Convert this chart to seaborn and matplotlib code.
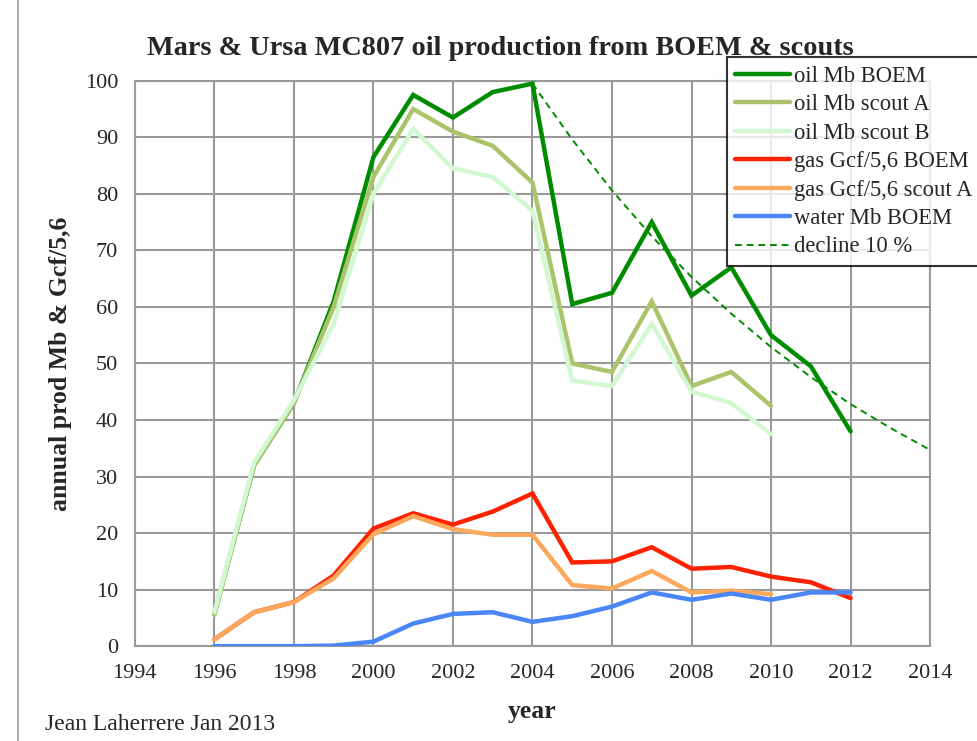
import numpy as np
import pandas as pd
import matplotlib
matplotlib.use("Agg")
import matplotlib.pyplot as plt
import seaborn as sns
from matplotlib.lines import Line2D

# Values
years_boem = [1996, 1997, 1998, 1999, 2000, 2001, 2002, 2003, 2004, 2005, 2006, 2007, 2008, 2009, 2010, 2011, 2012]
years_scout = [1996, 1997, 1998, 1999, 2000, 2001, 2002, 2003, 2004, 2005, 2006, 2007, 2008, 2009, 2010]
years_decline = [2004, 2005, 2006, 2007, 2008, 2009, 2010, 2011, 2012, 2013, 2014]

oil_boem = [5.8, 32, 43, 61, 86.5, 97.5, 93.5, 98, 99.5, 60.5, 62.5, 75, 62, 67, 55, 49.5, 38]
oil_scout_a = [5.5, 32, 43, 60, 83, 95, 91, 88.5, 82, 50, 48.5, 61, 46, 48.5, 42.5]
oil_scout_b = [6, 32.5, 43.5, 57, 80, 91.5, 84.5, 83, 77, 47, 46, 57, 45, 43, 37.5]
gas_boem = [1.2, 6, 7.8, 12.5, 20.8, 23.5, 21.5, 23.8, 27, 14.8, 15, 17.5, 13.7, 14, 12.3, 11.3, 8.5]
gas_scout_a = [1.2, 6, 7.8, 12, 19.8, 23, 20.7, 19.7, 19.7, 10.8, 10.2, 13.3, 9.5, 9.8, 9.2]
water_boem = [0, 0, 0, 0.1, 0.8, 4, 5.7, 6, 4.3, 5.3, 7, 9.5, 8.2, 9.3, 8.2, 9.5, 9.5]
decline_10 = [99.5, 89.6, 80.6, 72.5, 65.3, 58.8, 52.9, 47.6, 42.8, 38.6, 34.7]

x_ticks = list(range(1994, 2015, 2))
y_ticks = list(range(0, 101, 10))

sns.set_style("white")
plt.rcParams['font.family'] = ['Liberation Serif', 'DejaVu Serif']

fig = plt.figure(figsize=(9.77, 7.41), dpi=100)
ax = fig.add_axes([0.138, 0.128, 0.814, 0.763])

series = [
    (years_boem, oil_boem, "oil Mb BOEM", "#008c00"),
    (years_scout, oil_scout_a, "oil Mb scout A", "#abc46b"),
    (years_scout, oil_scout_b, "oil Mb scout B", "#d2f8d2"),
    (years_boem, gas_boem, "gas Gcf/5,6 BOEM", "#ff2200"),
    (years_scout, gas_scout_a, "gas Gcf/5,6 scout A", "#fba75c"),
    (years_boem, water_boem, "water Mb BOEM", "#4a86f8"),
]

handles = []
for i, (xs, ys, name, col) in enumerate(series):
    sns.lineplot(x=xs, y=ys, ax=ax, color=col, linewidth=3.2, zorder=3 + i,
                 solid_capstyle="round", solid_joinstyle="miter")
    handles.append(Line2D([0], [0], color=col, linewidth=3.2, solid_capstyle="round", label=name))

sns.lineplot(x=years_decline, y=decline_10, ax=ax, color="#008c00", linewidth=1.4,
             linestyle=(0, (3.5, 2.5)), zorder=10)
handles.append(Line2D([0], [0], color="#008c00", linewidth=1.4, linestyle=(0, (3.5, 2.5)),
                      label="decline 10 %"))

ax.set_xlim(1994, 2014)
ax.set_ylim(0, 100)
ax.set_xticks(x_ticks)
ax.set_yticks(y_ticks)
ax.grid(True, color="#9a9a9a", linewidth=1.5)
ax.set_axisbelow(True)
for s in ax.spines.values():
    s.set_color("#9a9a9a")
    s.set_linewidth(1.5)
ax.tick_params(axis="both", labelsize=16, length=6, color="#9a9a9a", width=1.5, direction="out")
ax.tick_params(axis="x", pad=7)
ax.tick_params(axis="y", pad=6)

ax.set_xlabel("year", fontsize=18.5, fontweight="bold", labelpad=12)
ax.set_ylabel("annual prod Mb & Gcf/5,6", fontsize=18.5, fontweight="bold", labelpad=9)
fig.text(0.512, 0.926, "Mars & Ursa MC807 oil production from BOEM & scouts", fontsize=20.3,
         fontweight="bold", ha="center", va="baseline")

leg = fig.legend(handles=handles, loc="upper left", bbox_to_anchor=(0.744, 0.923),
                 fontsize=16.3, frameon=True, fancybox=False, handlelength=2.4,
                 handletextpad=0.2, labelspacing=0.33, borderpad=0.38, borderaxespad=0)
leg.get_frame().set_edgecolor("black")
leg.get_frame().set_linewidth(1.5)
leg.set_zorder(20)

fig.text(0.046, 0.015, "Jean Laherrere Jan 2013", fontsize=17, va="baseline")
fig.add_artist(Line2D([0.018, 0.018], [0, 1], color="#9a9a9a", linewidth=1.2))

fig.savefig("out.png", dpi=100)
